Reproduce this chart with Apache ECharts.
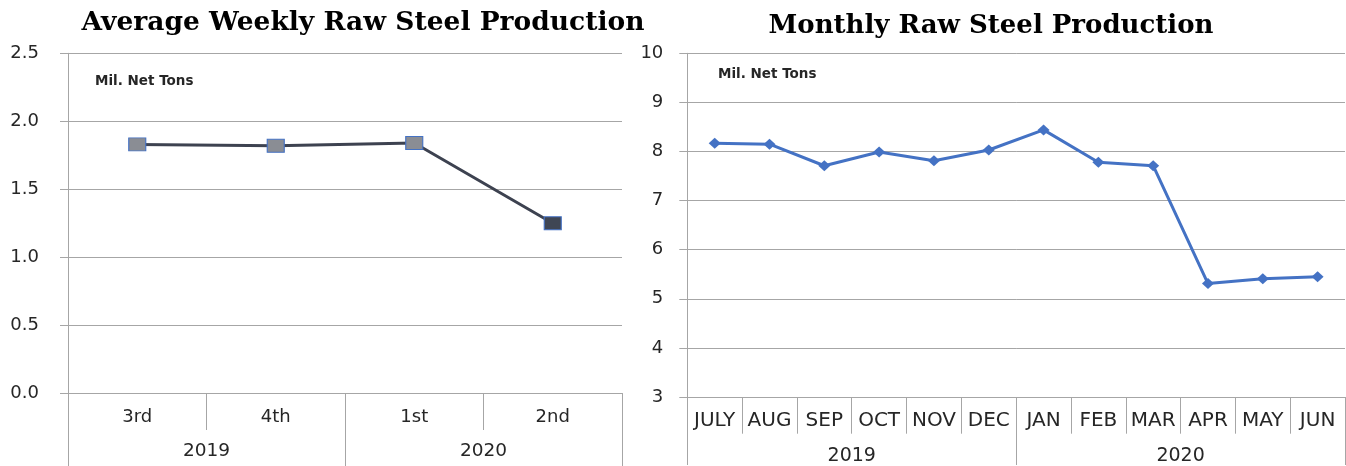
<!DOCTYPE html>
<html>
<head>
<meta charset="utf-8">
<script src="https://cdn.jsdelivr.net/npm/echarts@6/dist/echarts.min.js"></script>
<style>
html,body{margin:0;padding:0;background:#fff;}
#chart{width:1346px;height:466px;}
</style>
</head>
<body>
<div id="chart"></div>
<script>
// ---- data ----
const weeklyTitle = 'Average Weekly Raw Steel Production';
const monthlyTitle = 'Monthly Raw Steel Production';
const unitLabel = 'Mil. Net Tons';
const quarterLabels = ['3rd', '4th', '1st', '2nd'];
const quarterYears = ['2019', '2020'];
const weeklyValues = [1.83, 1.82, 1.84, 1.25];
const monthLabels = ['JULY', 'AUG', 'SEP', 'OCT', 'NOV', 'DEC', 'JAN', 'FEB', 'MAR', 'APR', 'MAY', 'JUN'];
const monthYears = ['2019', '2020'];
const monthlyValues = [8.17, 8.15, 7.71, 7.99, 7.81, 8.03, 8.44, 7.78, 7.71, 5.31, 5.41, 5.45];

// ---- styles ----
const gridColor = '#a6a6a6';
const textColor = '#262626';
const sans = 'DejaVu Sans';
const serif = 'DejaVu Serif';

const chart = echarts.init(document.getElementById('chart'), null, {renderer: 'canvas'});

function catAxis(gridIndex, data, tickLen, margin, fontSize) {
  return {
    type: 'category', gridIndex: gridIndex, data: data, position: 'bottom',
    boundaryGap: true,
    axisLine: {show: true, lineStyle: {color: gridColor, width: 1}},
    axisTick: {show: true, interval: 0, length: tickLen, alignWithLabel: false, lineStyle: {color: gridColor, width: 1}},
    axisLabel: {interval: 0, margin: margin, color: textColor, fontFamily: sans, fontSize: fontSize},
    splitLine: {show: false}
  };
}

const option = {
  animation: false,
  backgroundColor: '#ffffff',
  title: [
    {text: weeklyTitle, left: 358, top: 5, textAlign: 'center',
     textStyle: {fontFamily: serif, fontWeight: 'bold', fontSize: 26.5, color: '#000'}},
    {text: monthlyTitle, left: 986, top: 8, textAlign: 'center',
     textStyle: {fontFamily: serif, fontWeight: 'bold', fontSize: 26, color: '#000'}},
    {text: unitLabel, left: 90, top: 69,
     textStyle: {fontFamily: sans, fontWeight: 'bold', fontSize: 13.5, color: '#262626'}},
    {text: unitLabel, left: 713, top: 62,
     textStyle: {fontFamily: sans, fontWeight: 'bold', fontSize: 13.5, color: '#262626'}}
  ],
  grid: [
    {left: 68, top: 53.3, width: 554, height: 340, containLabel: false},
    {left: 687.3, top: 53.3, width: 657.7, height: 344.5, containLabel: false}
  ],
  xAxis: [
    catAxis(0, quarterLabels, 36.7, 15, 18),
    catAxis(0, quarterYears, 73, 48.5, 18.5),
    catAxis(1, monthLabels, 36.7, 13.5, 20),
    catAxis(1, monthYears, 68, 50, 19)
  ],
  yAxis: [
    {type: 'value', gridIndex: 0, min: 0, max: 2.5, interval: 0.5,
     axisLine: {show: true, lineStyle: {color: gridColor}},
     axisTick: {show: true, length: 8, lineStyle: {color: gridColor}},
     axisLabel: {margin: 29, color: textColor, fontFamily: sans, fontSize: 18,
                 formatter: v => v.toFixed(1)},
     splitLine: {show: true, lineStyle: {color: gridColor, width: 1}}},
    {type: 'value', gridIndex: 1, min: 3, max: 10, interval: 1,
     axisLine: {show: true, lineStyle: {color: gridColor}},
     axisTick: {show: true, length: 8, lineStyle: {color: gridColor}},
     axisLabel: {margin: 24, color: textColor, fontFamily: sans, fontSize: 18},
     splitLine: {show: true, lineStyle: {color: gridColor, width: 1}}}
  ],
  series: [
    {type: 'line', xAxisIndex: 0, yAxisIndex: 0,
     data: weeklyValues.map((v, i) => i === weeklyValues.length - 1
       ? {value: v, itemStyle: {color: '#3f4654'}} : v),
     symbol: 'rect', symbolSize: [17, 13], showAllSymbol: true,
     lineStyle: {color: '#3d4250', width: 3},
     itemStyle: {color: '#8a8d94', borderColor: '#4472c4', borderWidth: 1},
     z: 3},
    {type: 'line', xAxisIndex: 2, yAxisIndex: 1,
     data: monthlyValues,
     symbol: 'diamond', symbolSize: [12, 11], showAllSymbol: true,
     lineStyle: {color: '#4472c4', width: 3},
     itemStyle: {color: '#4472c4'},
     z: 3}
  ]
};
chart.setOption(option);
</script>
</body>
</html>
